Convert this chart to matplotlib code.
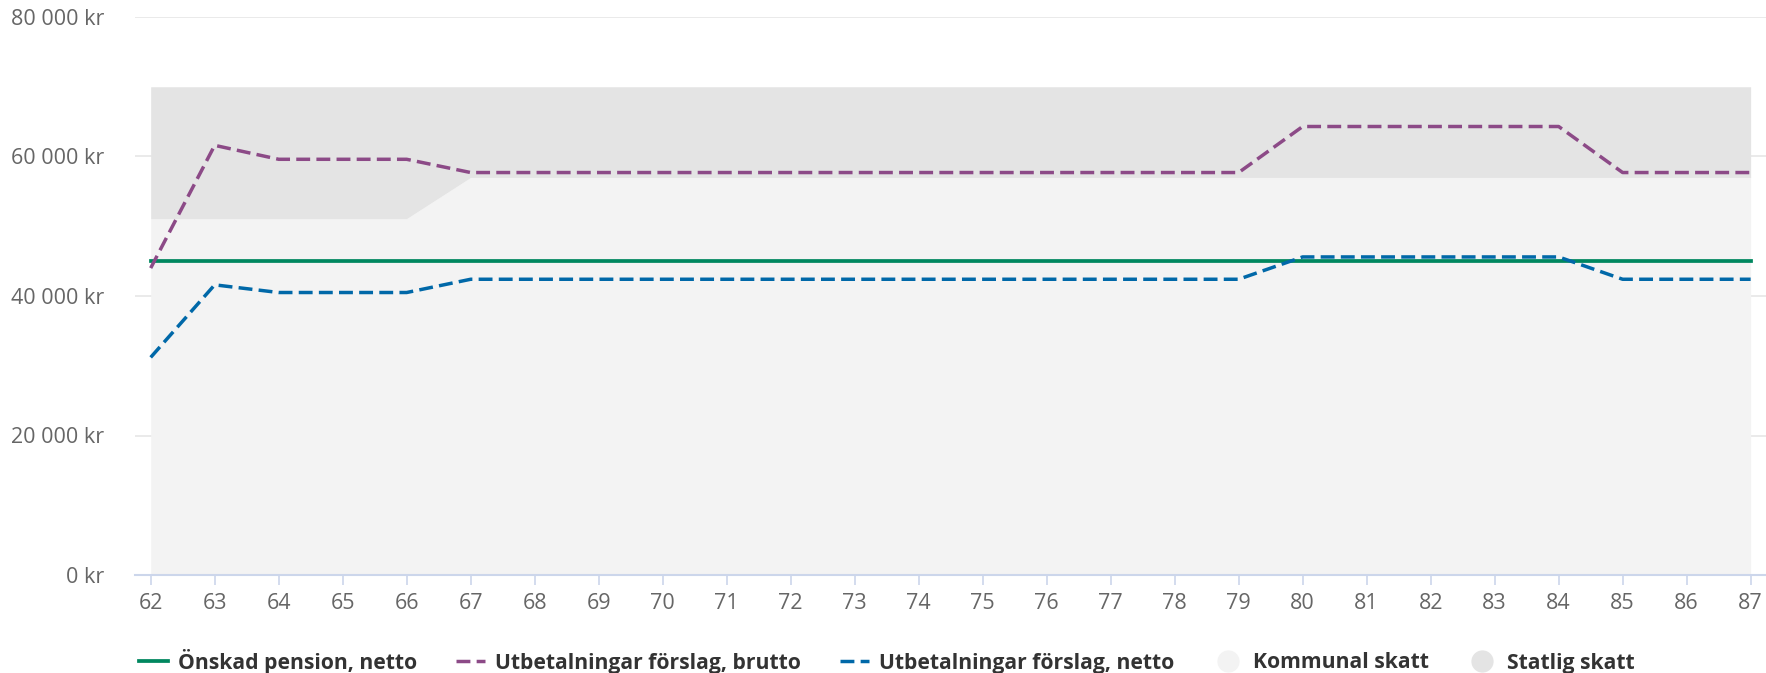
import numpy as np
import matplotlib
matplotlib.use("Agg")
import matplotlib.pyplot as plt
from matplotlib.lines import Line2D
from matplotlib.ticker import FuncFormatter

plt.rcParams['font.family'] = ['Open Sans', 'DejaVu Sans']

# Ages on the x axis
ages = list(range(62, 88))

# Önskad pension, netto (flat)
onskad = [45000] * 26

# Utbetalningar förslag, brutto
brutto = [44000, 61600, 59600, 59600, 59600] + [57700] * 13 + [64300] * 5 + [57700] * 3

# Utbetalningar förslag, netto
netto = [31200, 41600, 40500, 40500, 40500] + [42400] * 13 + [45600] * 5 + [42400] * 3

# Tax bands (area series)
kommunal_top = [51100] * 5 + [57000] * 21
statlig_top = [70000] * 26

y_ticks = [0, 20000, 40000, 60000, 80000]

green = '#00875f'
purple = '#8c4a87'
blue = '#0068a8'
dash = (4.0, 1.8)

fig = plt.figure(figsize=(17.66, 6.73), dpi=100)
ax = fig.add_axes([135 / 1766, 1 - 575 / 673, 1 - 135 / 1766, (575 - 17) / 673])

x = np.array(ages)
ax.fill_between(x, 0, kommunal_top, color='#f3f3f3', lw=0, zorder=1)
ax.fill_between(x, kommunal_top, statlig_top, color='#e4e4e4', lw=0, zorder=1)

ax.plot(x, onskad, color=green, lw=2.7, zorder=3)
ax.plot(x, brutto, color=purple, lw=2.5, dashes=dash, zorder=4)
ax.plot(x, netto, color=blue, lw=2.5, dashes=dash, zorder=4)

ax.set_xlim(61.755, 87.24)
ax.set_ylim(0, 80000)
ax.set_xticks(ages)
ax.set_yticks(y_ticks)
ax.yaxis.set_major_formatter(FuncFormatter(lambda v, p: f"{int(v):,} kr".replace(',', ' ')))

ax.grid(axis='y', color='#e6e6e6', lw=1.2, zorder=0)
ax.set_axisbelow(True)
for s in ['top', 'right', 'left']:
    ax.spines[s].set_visible(False)
ax.spines['bottom'].set_color('#ccd6eb')
ax.spines['bottom'].set_linewidth(1.5)
ax.spines['bottom'].set_zorder(5)

ax.tick_params(axis='x', colors='#ccd6eb', length=7, width=1.2, pad=6, labelsize=15.5, labelcolor='#666666')
ax.tick_params(axis='y', length=0, pad=22, labelsize=15.5, labelcolor='#666666')

handles = [
    Line2D([], [], color=green, lw=2.7),
    Line2D([], [], color=purple, lw=2.5, dashes=dash),
    Line2D([], [], color=blue, lw=2.5, dashes=dash),
    Line2D([], [], color='#f3f3f3', marker='o', ls='none', markersize=15),
    Line2D([], [], color='#e4e4e4', marker='o', ls='none', markersize=15),
]
labels = ['Önskad pension, netto', 'Utbetalningar förslag, brutto', 'Utbetalningar förslag, netto',
          'Kommunal skatt', 'Statlig skatt']
leg = fig.legend(handles, labels, loc='center left', bbox_to_anchor=(120 / 1766, 1 - 661 / 673),
                 ncol=5, frameon=False, handlelength=1.37, handletextpad=0.48, columnspacing=1.85,
                 prop={'weight': 'bold', 'size': 15.2})
for t in leg.get_texts():
    t.set_color('#333333')

fig.savefig('out.png', dpi=100)
